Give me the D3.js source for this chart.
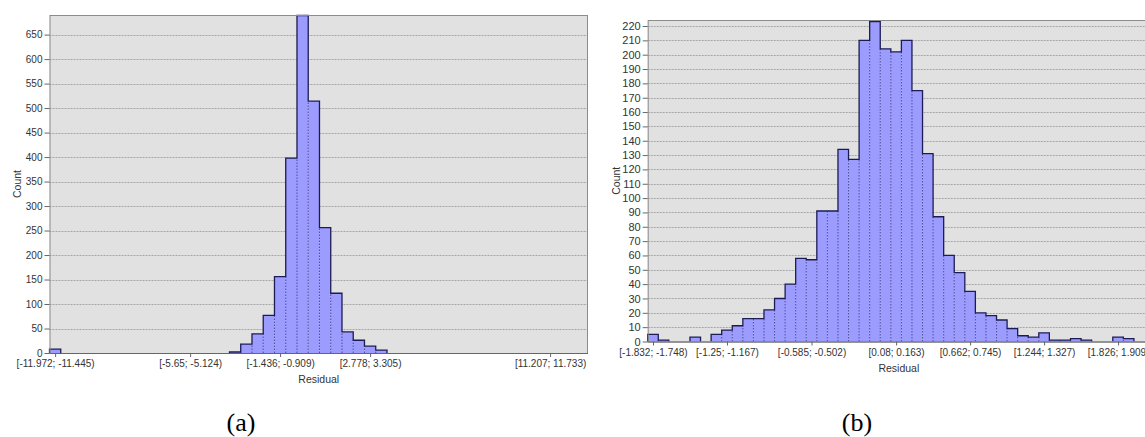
<!DOCTYPE html>
<html>
<head>
<meta charset="utf-8">
<script src="https://cdn.jsdelivr.net/npm/d3@7"></script>
<style>
  body { margin: 0; background: #fff; }
  svg text { font-family: "Liberation Sans", Arial, sans-serif; }
</style>
</head>
<body>
<svg id="chart" width="1145" height="437"></svg>
<script>
// (a) residual histogram, wide range
const leftCounts = [8, 0, 0, 0, 0, 0, 0, 0, 0, 0, 0, 0, 0, 0, 0, 0,
    2, 18, 39, 77, 156, 398, 689, 514, 256, 122, 43, 26, 14, 6,
    0, 0, 0, 0, 0, 0, 0, 0, 0, 0, 0, 0, 0, 0, 0];
const leftTickBins = [0, 12, 20, 28, 44];
const leftTickLabels = ["[-11.972; -11.445)", "[-5.65; -5.124)", "[-1.436; -0.909)", "[2.778; 3.305)", "[11.207; 11.733)"];
const leftYTicks = d3.range(0, 651, 50);

// (b) residual histogram, narrow range
const rightCounts = [5, 1, 0, 0, 3, 0, 5, 8, 11, 16, 16, 22, 30, 40, 58, 57,
    91, 91, 134, 127, 210, 223, 204, 202, 210, 175, 131, 87, 60, 48,
    35, 20, 18, 15, 9, 4, 3, 6, 1, 1, 2, 1, 0, 0, 3, 2, 0];
const rightTickBins = [0, 7, 15, 23, 30, 37, 44];
const rightTickLabels = ["[-1.832; -1.748)", "[-1.25; -1.167)", "[-0.585; -0.502)", "[0.08; 0.163)", "[0.662; 0.745)", "[1.244; 1.327)", "[1.826; 1.909)"];
const rightYTicks = d3.range(0, 221, 10);

const svg = d3.select("#chart");

function drawHist(cfg) {
    const { counts, tickBins, tickLabels, yTicks } = cfg;
    const x = d3.scaleLinear().domain([0, cfg.nSlots]).range([cfg.left, cfg.right]);
    const y = d3.scaleLinear().domain([0, cfg.yMax]).range([cfg.bottom, cfg.top]);
    const g = svg.append("g");

    // plot background
    g.append("rect")
        .attr("x", cfg.left).attr("y", cfg.top)
        .attr("width", cfg.right - cfg.left).attr("height", cfg.bottom - cfg.top)
        .attr("fill", "#e1e1e1");

    // grid
    g.append("g").selectAll("line")
        .data(yTicks.filter(d => d > 0))
        .join("line")
        .attr("x1", cfg.left).attr("x2", cfg.right)
        .attr("y1", d => Math.round(y(d)) + 0.5).attr("y2", d => Math.round(y(d)) + 0.5)
        .attr("stroke", "#a6a6a6")
        .attr("stroke-dasharray", "2,1");

    const bins = counts.map((c, i) => ({ i, c }));

    // bars
    g.append("g").selectAll("rect")
        .data(bins.filter(d => d.c > 0))
        .join("rect")
        .attr("x", d => x(d.i))
        .attr("width", d => x(d.i + 1) - x(d.i))
        .attr("y", d => y(d.c))
        .attr("height", d => y(0) - y(d.c))
        .attr("fill", "#9c9cff");

    // dotted separators between neighbouring bars
    g.append("g").selectAll("line")
        .data(bins.filter(d => d.i > 0 && d.c > 0 && counts[d.i - 1] > 0))
        .join("line")
        .attr("x1", d => x(d.i)).attr("x2", d => x(d.i))
        .attr("y1", y(0))
        .attr("y2", d => y(Math.min(d.c, counts[d.i - 1])))
        .attr("stroke", "#4a4aa8")
        .attr("stroke-dasharray", "1.5,1.5");

    // silhouette outline for each run of non-empty bins
    const runs = [];
    let cur = null;
    counts.forEach((c, i) => {
        if (c > 0) { if (!cur) { cur = []; runs.push(cur); } cur.push(i); }
        else cur = null;
    });
    const step = d3.line().x(p => p[0]).y(p => p[1]).curve(d3.curveStepAfter);
    runs.forEach(run => {
        const pts = [[x(run[0]), y(0)]];
        run.forEach(i => pts.push([x(i), y(counts[i])]));
        const last = run[run.length - 1];
        pts.push([x(last + 1), y(counts[last])]);
        pts.push([x(last + 1), y(0)]);
        g.append("path")
            .attr("d", step(pts))
            .attr("fill", "none")
            .attr("stroke", "#1c1c55")
            .attr("stroke-width", 1.3);
    });

    // frame
    g.append("rect")
        .attr("x", cfg.left + 0.5).attr("y", cfg.top + 0.5)
        .attr("width", cfg.right - cfg.left - 1).attr("height", cfg.bottom - cfg.top)
        .attr("fill", "none")
        .attr("stroke", "#8c8c8c");
    g.append("line")
        .attr("x1", cfg.left).attr("x2", cfg.right)
        .attr("y1", cfg.bottom + 0.5).attr("y2", cfg.bottom + 0.5)
        .attr("stroke", "#666");

    // y axis
    const yAxis = g.append("g")
        .attr("transform", `translate(${cfg.left},0)`)
        .call(d3.axisLeft(y).tickValues(yTicks).tickSize(5).tickPadding(2));
    yAxis.select(".domain").remove();
    yAxis.selectAll("line").attr("stroke", "#666");
    yAxis.selectAll("text").attr("fill", "#333").style("font-size", cfg.yFont + "px")
        .style("font-family", '"Liberation Sans", Arial, sans-serif');

    // x axis
    const xAxis = g.append("g")
        .attr("transform", `translate(0,${cfg.bottom})`)
        .call(d3.axisBottom(x)
            .tickValues(tickBins.map(b => b + 0.5))
            .tickFormat((d, k) => tickLabels[k])
            .tickSize(4).tickPadding(3));
    xAxis.select(".domain").remove();
    xAxis.selectAll("line").attr("stroke", "#666");
    xAxis.selectAll("text").attr("fill", "#333").style("font-size", "10px")
        .style("font-family", '"Liberation Sans", Arial, sans-serif');

    // axis titles
    g.append("text")
        .attr("x", (cfg.left + cfg.right) / 2)
        .attr("y", cfg.bottom + 30)
        .attr("text-anchor", "middle")
        .attr("fill", "#333")
        .style("font-size", "10.5px")
        .text("Residual");
    g.append("text")
        .attr("transform", `translate(${cfg.countX},${(cfg.top + cfg.bottom) / 2}) rotate(-90)`)
        .attr("text-anchor", "middle")
        .attr("fill", "#333")
        .style("font-size", "10.5px")
        .text("Count");

    // panel letter
    svg.append("text")
        .attr("x", cfg.letterX)
        .attr("y", 431)
        .attr("text-anchor", "middle")
        .attr("fill", "#000")
        .style("font-family", '"Liberation Serif", "Times New Roman", serif')
        .style("font-size", "26px")
        .text(cfg.letter);
}

drawHist({
    counts: leftCounts, tickBins: leftTickBins, tickLabels: leftTickLabels, yTicks: leftYTicks,
    nSlots: 47.87, yMax: 690, left: 49.5, right: 588, top: 15, bottom: 353,
    yFont: 10, countX: 21, letter: "(a)", letterX: 241
});

drawHist({
    counts: rightCounts, tickBins: rightTickBins, tickLabels: rightTickLabels, yTicks: rightYTicks,
    nSlots: 47.52, yMax: 224.2, left: 647.7, right: 1150, top: 20, bottom: 341.5,
    yFont: 11, countX: 620, letter: "(b)", letterX: 857
});
</script>
</body>
</html>
